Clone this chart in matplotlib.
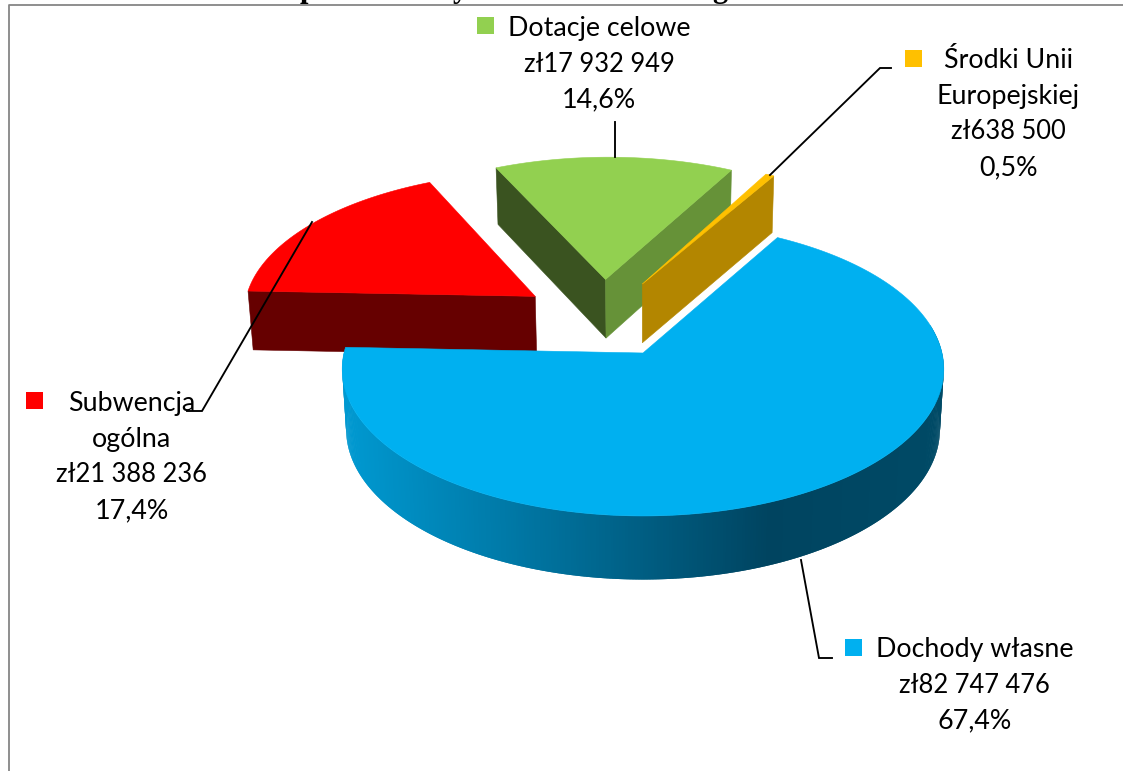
import math

import matplotlib.pyplot as plt
import numpy as np
from matplotlib.colors import to_rgb
from matplotlib.patches import Polygon, Rectangle

WIDTH, HEIGHT = 1123, 771

categories = ['Dochody własne', 'Subwencja ogólna', 'Dotacje celowe',
              'Środki Unii Europejskiej']
values = [82747476, 21388236, 17932949, 638500]
colors = ['#00b0f0', '#ff0000', '#92d050', '#ffc000']
wrapped = [['Dochody własne'], ['Subwencja', 'ogólna'], ['Dotacje celowe'],
           ['Środki Unii', 'Europejskiej']]

# pie geometry (pixels)
START_ANGLE = 29.5
EXPLODE = 0.283
HUB_X, HUB_Y = 643, 353
SCALE_X, SCALE_Y = 299, 145.2
PERSP = 0.109
PERSP_BACK = 0.088  # the pulled out slices shrink a bit less
DEPTH = 60

# where the labels sit: text centre, first baseline, marker corner
label_pos = [(974.5, 657, 845, 639), (131.5, 411, 26, 392),
             (599, 36, 477, 17), (1008, 68, 905, 50)]
LINE_STEP = 35.7
# leader lines
leaders = [[(801, 560), (819, 658), (832, 658)],
           [(312, 222), (202, 411), (187, 411)],
           [(615, 157), (615, 122)],
           [(770, 175), (880, 68), (891, 68)]]

grad_x = [347, 570, 770, 941]
grad_rgb = [(0x00, 0x99, 0xd1), (0x00, 0x6d, 0x97),
            (0x00, 0x44, 0x60), (0x00, 0x4a, 0x66)]


def project(u, v, c):
    s = 1 / (1 - c * v)
    return HUB_X + SCALE_X * u * s, HUB_Y + SCALE_Y * v * s


def drop(u, v, c):
    # same plane point on the underside of the disc
    x, y = project(u, v, c)
    s = 1 / (1 - c * v)
    return 645 + (x - 645) * 0.987, y + DEPTH * math.sqrt(s)


def direction(deg):
    r = math.radians(deg)
    return math.sin(r), -math.cos(r)


def shade(color, f):
    return tuple(np.array(to_rgb(color)) * f)


def fmt_value(v):
    return 'zł' + f'{v:,}'.replace(',', ' ')


def draw_wall(ax, rim, c):
    # strips overlap the next one so no seams show through
    front = [p for p in rim if p[1] > -0.2]
    for k in range(len(front) - 1):
        p0 = front[k]
        p1 = front[min(k + 2, len(front) - 1)]
        quad = [project(p0[0], p0[1], c), project(p1[0], p1[1], c),
                drop(p1[0], p1[1], c), drop(p0[0], p0[1], c)]
        mid_x = (quad[0][0] + quad[3][0]) / 2
        col = [np.interp(mid_x, grad_x, [g[i] for g in grad_rgb]) / 255
               for i in range(3)]
        ax.add_patch(Polygon(quad, closed=True, fc=col, ec='none', zorder=1))


def draw_slice(ax, start, end, color, apex, c):
    au, av = apex
    angles = np.arange(start, end, 0.5).tolist() + [end]
    rim = [direction(a) for a in angles]
    rim = [(au + u, av + v) for u, v in rim]

    # only the big slice shows its outer wall
    if color == colors[0]:
        draw_wall(ax, rim, c)

    # the two cut faces, when they look toward the viewer
    mid_dir = direction((start + end) / 2)
    mid = project(au + mid_dir[0], av + mid_dir[1], c)
    top_apex = project(au, av, c)
    for edge, nx in ((rim[0], -math.cos(math.radians(start))),
                     (rim[-1], math.cos(math.radians(end)))):
        ex, ey = project(edge[0], edge[1], c)
        cross = (ex - top_apex[0]) * (mid[1] - top_apex[1]) \
            - (ey - top_apex[1]) * (mid[0] - top_apex[0])
        if cross * (ex - top_apex[0]) >= 0:
            continue
        col = shade(color, 0.7 if nx > 0 else 0.4)
        quad = [top_apex, (ex, ey), drop(edge[0], edge[1], c), drop(au, av, c)]
        ax.add_patch(Polygon(quad, closed=True, fc=col, ec=col, lw=0.4,
                             zorder=2))

    top = [top_apex] + [project(u, v, c) for u, v in rim]
    ax.add_patch(Polygon(top, closed=True, fc=color, ec=color, lw=0.4,
                         zorder=2))


fig = plt.figure(figsize=(WIDTH / 100, HEIGHT / 100), dpi=100)
ax = fig.add_axes([0, 0, 1, 1])
ax.set_xlim(0, WIDTH)
ax.set_ylim(HEIGHT, 0)
ax.axis('off')

# chart frame, cut by the edges of the picture
ax.plot([8.5, 8.5, WIDTH + 5], [HEIGHT + 5, 4.5, 4.5], color='#868686', lw=1.3)

# what is left of the title above the frame
for letter, x in (('p', 308), ('y', 460), ('g', 720)):
    ax.text(x, -3, letter, family='Liberation Serif', weight='bold',
            fontsize=22, ha='center', va='baseline', color='black',
            clip_on=False)

total = sum(values)
slices = []
angle = START_ANGLE
first_dir = direction(START_ANGLE + 180 * values[0] / total)
for i, (value, color) in enumerate(zip(values, colors)):
    sweep = 360 * value / total
    du, dv = direction(angle + sweep / 2)
    apex = (EXPLODE * (du - first_dir[0]), EXPLODE * (dv - first_dir[1]))
    c = PERSP if i == 0 else PERSP_BACK
    slices.append((angle, angle + sweep, color, apex, c))
    angle += sweep

# back slices first, the big front one goes over them
for start, end, color, apex, c in sorted(slices, key=lambda s: s[3][1]):
    draw_slice(ax, start, end, color, apex, c)

for pts in leaders:
    ax.plot([p[0] for p in pts], [p[1] for p in pts], color='black', lw=1.35,
            solid_joinstyle='miter', zorder=3)

for i, value in enumerate(values):
    cx, base, mx, my = label_pos[i]
    pct = f'{100 * value / total:.1f}%'.replace('.', ',')
    lines = [(t, 19.3) for t in wrapped[i]] \
        + [(fmt_value(value), 18.4), (pct, 19.4)]
    for j, (line, size) in enumerate(lines):
        ax.text(cx, base + j * LINE_STEP, line, family='Lato', fontsize=size,
                ha='center', va='baseline', color='black', zorder=4)
    ax.add_patch(Rectangle((mx, my), 17, 17, fc=colors[i], ec='none', zorder=4))

fig.savefig('out.png', dpi=100)
